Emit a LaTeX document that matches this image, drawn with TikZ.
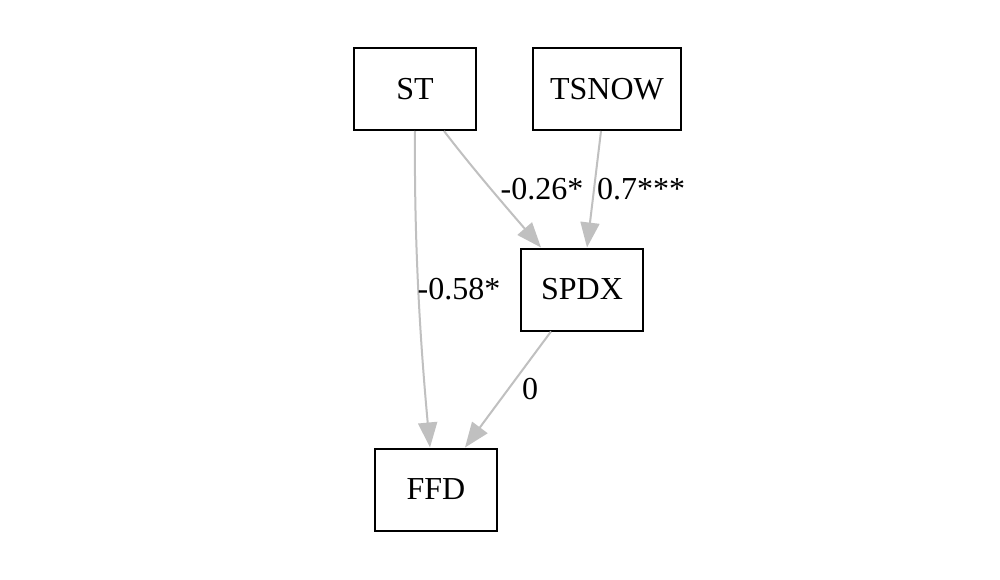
\documentclass[tikz,border=0pt]{standalone}
\usepackage{fontspec}
\setmainfont{Liberation Serif}
\usetikzlibrary{arrows.meta}
\definecolor{edgegray}{RGB}{192,192,192}
\begin{document}
\begin{tikzpicture}[x=1pt,y=-1pt,
 box/.style={draw=black,line width=2pt,minimum height=82pt,inner sep=0pt,font=\fontsize{32}{32}\selectfont},
 edge/.style={draw=edgegray,line width=2pt,-{Triangle[length=25pt,width=19pt]}},
 lbl/.style={font=\fontsize{32}{32}\selectfont,inner sep=0pt}]
\useasboundingbox[fill=white] (0,0) rectangle (1000,580);
\node[box,minimum width=122pt] (st) at (415,89) {ST};
\node[box,minimum width=148pt] (tsnow) at (607,89) {TSNOW};
\node[box,minimum width=122pt] (spdx) at (582,289.5) {SPDX};
\node[box,minimum width=122pt] (ffd) at (436,489.5) {FFD};
\draw[edge] (st.south) .. controls (414,250) and (421,350) .. ([xshift=-6pt]ffd.north);
\draw[edge] ([xshift=29pt]st.south) .. controls (470,165) and (500,200) .. ([xshift=-41pt]spdx.north);
\draw[edge] ([xshift=-6pt]tsnow.south) -- ([xshift=5pt]spdx.north);
\draw[edge] ([xshift=-31pt]spdx.south) -- ([xshift=29pt]ffd.north);
\node[lbl] (l1) at (542,189) {-0.26*};
\node[lbl] (l2) at (641,189) {0.7***};
\node[lbl] (l3) at (459,289) {-0.58*};
\node[lbl] (l4) at (530,389) {0};
\end{tikzpicture}
\end{document}
